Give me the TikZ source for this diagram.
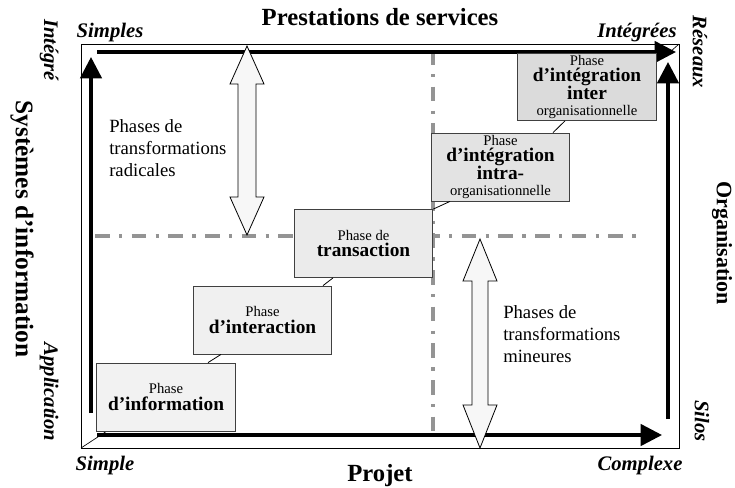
\documentclass[tikz,border=0pt]{standalone}
\usepackage{fontspec}
\setmainfont{Liberation Serif}
\usetikzlibrary{arrows.meta}
\usetikzlibrary{calc}

\newcommand{\phfont}{\fontsize{11}{12.5}\selectfont\lineskiplimit=-20pt\relax}
\newcommand{\phgras}{\fontsize{14.5}{12.5}\selectfont\bfseries}

\begin{document}
\begin{tikzpicture}[x=0.75pt,y=-0.75pt]
\tikzstyle{phase} = [draw=black!75, line width=0.6pt, align=center, minimum width=104pt, minimum height=51pt, inner sep=1pt, font=\phfont]
\tikzstyle{axe} = [line width=2.6pt, -{Triangle[length=16pt,width=16pt]}]
\tikzstyle{repere} = [color=black!42, line width=2.5pt, dash pattern=on 11pt off 7pt on 2.5pt off 7pt]
\tikzstyle{bloc} = [draw, fill=black!3, line width=0.6pt, line join=miter]
\tikzstyle{lien} = [line width=0.6pt]
\tikzstyle{coin} = [font=\fontsize{15.5}{16}\selectfont\bfseries\itshape]
\tikzstyle{titre} = [font=\fontsize{18.5}{20}\selectfont\bfseries]
\tikzstyle{libre} = [align=left, inner sep=0pt, font=\fontsize{14}{16.5}\selectfont]

\useasboundingbox (0,0) rectangle (735,487);

% cadre
\draw[line width=0.6pt] (81,44) rectangle (679,448);
\draw[line width=0.5pt] (81,448) -- (107,431);
\draw[line width=0.5pt] (679,44) -- (670,52);

% reperes
\draw[repere] (95,236) -- (645,236);
\draw[repere] (433,50) -- (433,437);

% axes
\draw[axe] (91,413) -- (91,57);
\draw[axe] (97,52) -- (676,52);
\draw[axe] (668,419) -- (668,62);
\draw[axe] (97,435) -- (662,435);

% fleches doubles
\draw[bloc] (247,46) -- (264,84) -- (256,84) -- (256,197) -- (264,197) -- (247,235)
  -- (230,197) -- (238,197) -- (238,84) -- (230,84) -- cycle;
\draw[bloc] (480,239) -- (497,281) -- (488,281) -- (488,405) -- (497,405) -- (480,448)
  -- (463,405) -- (472,405) -- (472,281) -- (463,281) -- cycle;

% phases
\node[phase, fill=black!5]  (info)        at (166,397)   {Phase\\ \phgras d’information};
\node[phase, fill=black!6]  (interaction) at (262.5,320) {Phase\\ \phgras d’interaction};
\node[phase, fill=black!8]  (transaction) at (363.5,243.5) {Phase de\\ \phgras transaction};
\node[phase, fill=black!11] (intra)       at (500.5,167) {Phase\\ \phgras d’intégration\\[0.7pt] \phgras intra-\\ organisationnelle};
\node[phase, fill=black!14, minimum height=48pt] (inter) at (587,87) {Phase\\ \phgras d’intégration\\[0.7pt] \phgras inter\\ organisationnelle};

\draw[lien] ($(info.north)+(42,0)$) -- ($(interaction.south)+(-41.5,0)$);
\draw[lien] ($(interaction.north)+(60.5,0)$) -- ($(transaction.south)+(-30.5,0)$);
\draw[lien] (transaction.north east) -- ($(intra.south)+(-50.5,0)$);
\draw[lien] ($(intra.north)+(52.5,0)$) -- ($(inter.south)+(-22,0)$);

% textes
\node[libre, anchor=west] (radicales) at (109,148) {Phases de\\transformations\\radicales};
\node[libre, anchor=west] (mineures)  at (503,334) {Phases de\\transformations\\mineures};

\node[titre] (services) at (380,17) {Prestations de services};
\node[titre] (projet) at (380,476) {Projet};
\node[titre, font=\fontsize{19}{20}\selectfont\bfseries, rotate=-90] (si) at (22,229) {Systèmes d’information};
\node[titre, font=\fontsize{16.5}{18}\selectfont\bfseries, rotate=-90] (orga) at (722,243) {Organisation};

\node[coin] (simples)   at (110,33)  {Simples};
\node[coin] (integrees) at (637,33)  {Intégrées};
\node[coin] (simple)    at (105,466) {Simple};
\node[coin] (complexe)  at (640,466) {Complexe};
\node[coin, rotate=-90] (integre)     at (49,50)   {Intégré};
\node[coin, rotate=-90] (application) at (49,392)  {Application};
\node[coin, rotate=-90] (reseaux)     at (700,52)  {Réseaux};
\node[coin, rotate=-90] (silos)       at (702,421) {Silos};
\end{tikzpicture}
\end{document}
